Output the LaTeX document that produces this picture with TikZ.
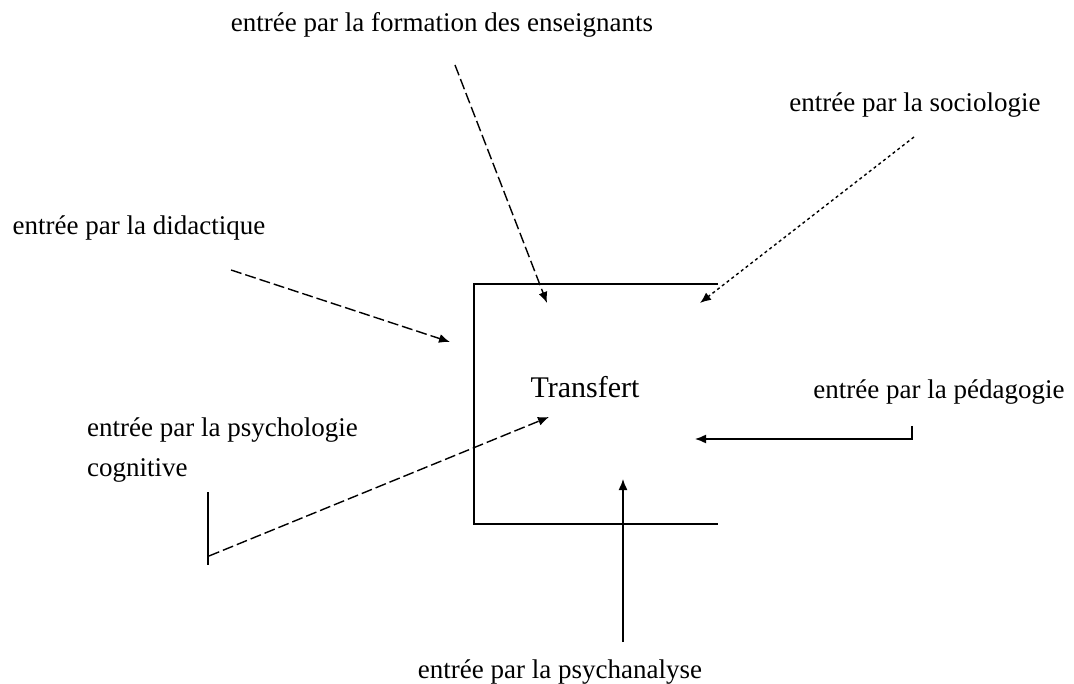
\documentclass[tikz,border=0pt]{standalone}
\usepackage{fontspec}
\setmainfont{Liberation Serif}
\usetikzlibrary{arrows.meta}
\begin{document}
\begin{tikzpicture}[x=1pt,y=-1pt,
  lbl/.style={font=\fontsize{27}{40}\selectfont, inner sep=0pt},
  conn/.style={line width=1.4pt, -{Latex[length=11pt,width=9pt]}},
  dsh/.style={dash pattern=on 11pt off 4pt},
  dts/.style={dash pattern=on 3pt off 3pt},
  frame/.style={line width=2pt}]
\useasboundingbox (0,0) rectangle (1074,684);
% box (open on the right)
\draw[frame] (718,284) -- (474,284) -- (474,524) -- (718,524);
\node[font=\fontsize{30}{34}\selectfont, inner sep=0pt] (tr) at (585,387) {Transfert};
% labels
\node[lbl] (form) at (442,25) {entrée par la formation des enseignants};
\node[lbl] (soc) at (915,105) {entrée par la sociologie};
\node[lbl] (did) at (139,228) {entrée par la didactique};
\node[lbl] (ped) at (939,392) {entrée par la pédagogie};
\node[lbl, align=left, anchor=north west] (psy) at (87,418) {entrée par la psychologie\\cognitive};
\node[lbl] (pan) at (560,672) {entrée par la psychanalyse};
% coordinates
\coordinate (f0) at (455,65);   \coordinate (f1) at (547,303);
\coordinate (s0) at (914,137);  \coordinate (s1) at (700,303);
\coordinate (d0) at (231,270);  \coordinate (d1) at (450,342);
\coordinate (p0) at (209,556);  \coordinate (p1) at (549,417);
\coordinate (pt) at (208,492);  \coordinate (pb) at (208,565);
\coordinate (g0) at (912,426);  \coordinate (g1) at (912,439); \coordinate (g2) at (695,439);
\coordinate (a0) at (623,642);  \coordinate (a1) at (623,479);
% connectors
\draw[conn, dsh] (f0) -- (f1);
\draw[conn, dts] (s0) -- (s1);
\draw[conn, dsh] (d0) -- (d1);
\draw[line width=1.4pt] (pt) -- (pb);
\draw[conn, dsh] (p0) -- (p1);
\draw[conn] (g0) -- (g1) -- (g2);
\draw[conn] (a0) -- (a1);
\end{tikzpicture}
\end{document}
